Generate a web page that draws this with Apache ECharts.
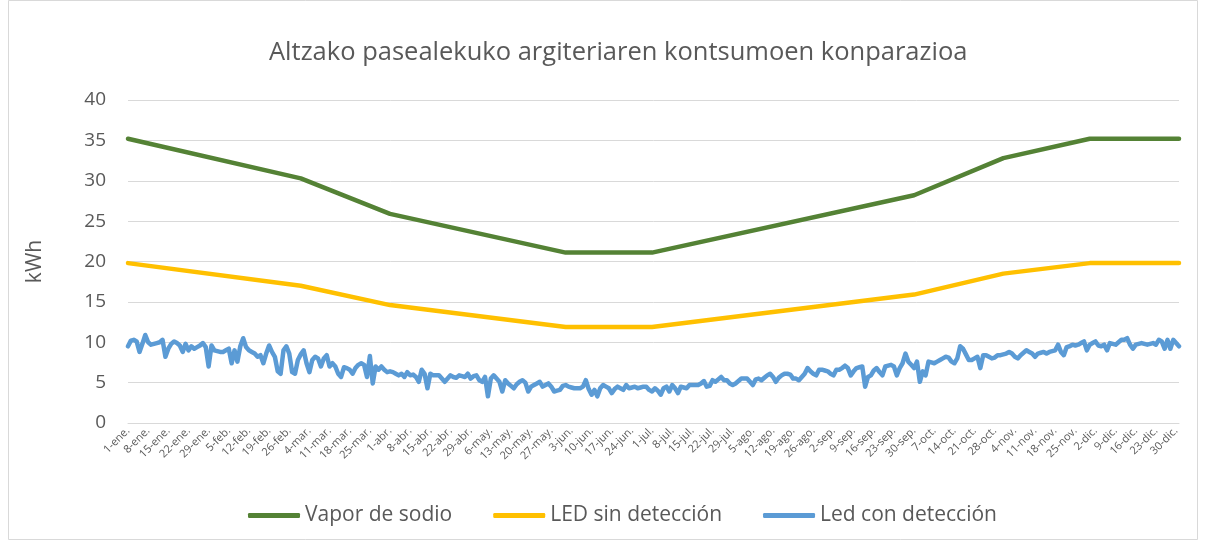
<!DOCTYPE html>
<html>
<head>
<meta charset="utf-8">
<script src="https://cdn.jsdelivr.net/npm/echarts@6/dist/echarts.min.js"></script>
<style>
  html, body { margin: 0; padding: 0; background: #ffffff; }
  #chart { width: 1206px; height: 545px; }
</style>
</head>
<body>
<div id="chart"></div>
<script>
// Year 2020 (leap year): one category per day, a label every 7 days.
const MONTH_NAMES = ['ene.', 'feb.', 'mar.', 'abr.', 'may.', 'jun.', 'jul.', 'ago.', 'sep.', 'oct.', 'nov.', 'dic.'];
const MONTH_LENGTHS = [31, 29, 31, 30, 31, 30, 31, 31, 30, 31, 30, 31];

const SERIES_NAMES = ['Vapor de sodio', 'LED sin detección', 'Led con detección'];

// Vapor de sodio: [day index, kWh] at the points where the slope changes
const vaporSodio = [
  [0, 35.2], [60, 30.3], [91, 25.9], [152, 21.1], [182, 21.1],
  [273, 28.2], [304, 32.8], [334, 35.2], [365, 35.2]
];

// LED sin detección: [day index, kWh]
const ledSinDeteccion = [
  [0, 19.8], [60, 17.0], [91, 14.6], [152, 11.9], [182, 11.9],
  [273, 15.9], [304, 18.5], [334, 19.8], [365, 19.8]
];

// Led con detección: daily kWh, 1 January to 31 December
const ledConDeteccion = [
  9.5, 10.2, 10.3, 10.1, 8.8, 9.8, 10.9, 10.0, 9.7, 9.8,
  9.9, 10.0, 10.3, 8.2, 9.2, 9.8, 10.1, 9.9, 9.6, 8.8,
  9.8, 9.0, 9.5, 9.2, 9.4, 9.6, 9.9, 9.4, 7.0, 9.6,
  9.0, 8.9, 8.8, 8.8, 9.0, 9.2, 7.4, 9.0, 7.6, 9.5,
  10.5, 9.4, 9.0, 8.8, 8.6, 8.2, 8.4, 7.4, 8.6, 9.6,
  8.8, 8.2, 6.4, 6.1, 9.0, 9.5, 8.6, 6.3, 6.1, 7.8,
  8.5, 9.0, 7.4, 6.3, 7.8, 8.2, 8.0, 7.0, 8.0, 8.4,
  7.0, 7.4, 7.0, 6.1, 5.7, 6.9, 6.8, 6.6, 6.1, 6.8,
  7.2, 7.4, 7.2, 5.7, 8.3, 4.9, 7.0, 6.6, 7.0, 6.6,
  6.3, 6.4, 6.3, 6.1, 5.9, 6.1, 5.7, 6.3, 5.9, 6.0,
  5.7, 5.1, 6.6, 6.1, 4.3, 6.1, 5.9, 5.9, 5.9, 5.5,
  5.1, 5.5, 5.9, 5.7, 5.6, 5.9, 5.8, 5.7, 6.1, 5.5,
  5.8, 5.9, 5.3, 5.1, 5.7, 3.3, 5.5, 5.9, 5.5, 5.1,
  3.9, 5.3, 4.9, 4.6, 4.3, 4.8, 5.1, 5.3, 5.0, 3.9,
  4.5, 4.7, 4.9, 5.1, 4.5, 4.7, 4.9, 4.5, 3.9, 4.0,
  4.1, 4.6, 4.7, 4.5, 4.4, 4.3, 4.3, 4.3, 4.5, 5.3,
  4.2, 3.5, 4.1, 3.3, 4.3, 4.7, 4.5, 4.3, 3.7, 4.2,
  4.5, 4.3, 4.1, 4.7, 4.3, 4.4, 4.5, 4.3, 4.4, 4.5,
  4.5, 4.1, 3.9, 4.3, 4.0, 3.5, 4.3, 4.5, 3.9, 4.7,
  4.3, 3.7, 4.5, 4.4, 4.3, 4.7, 4.7, 4.7, 4.7, 4.9,
  5.2, 4.5, 4.6, 5.3, 5.1, 5.4, 5.7, 5.3, 5.3, 4.9,
  4.7, 4.9, 5.2, 5.5, 5.5, 5.5, 5.1, 4.7, 5.4, 5.5,
  5.3, 5.6, 5.9, 6.1, 5.7, 5.1, 5.6, 5.9, 6.1, 6.1,
  6.0, 5.5, 5.5, 5.3, 5.7, 6.1, 6.8, 6.4, 6.1, 5.9,
  6.6, 6.6, 6.5, 6.4, 6.1, 5.9, 6.6, 6.6, 6.8, 7.1,
  6.8, 5.9, 6.4, 6.8, 6.9, 7.0, 4.5, 5.7, 5.9, 6.5,
  6.8, 6.3, 5.9, 7.0, 7.1, 7.2, 7.0, 5.9, 6.8, 7.4,
  8.6, 7.6, 7.2, 6.8, 7.6, 5.1, 6.4, 5.9, 7.6, 7.5,
  7.4, 7.6, 7.8, 8.0, 8.2, 8.1, 7.6, 7.4, 8.0, 9.5,
  9.2, 8.5, 7.8, 7.8, 8.0, 8.2, 6.8, 8.4, 8.4, 8.2,
  8.0, 8.1, 8.4, 8.4, 8.5, 8.6, 8.8, 8.6, 8.2, 8.0,
  8.4, 8.7, 9.0, 8.8, 8.6, 8.2, 8.6, 8.7, 8.8, 8.6,
  8.8, 8.9, 9.0, 9.7, 8.8, 8.4, 9.4, 9.5, 9.7, 9.6,
  9.7, 9.9, 10.1, 9.0, 9.7, 9.9, 10.1, 9.6, 9.5, 9.7,
  9.0, 9.9, 9.8, 9.7, 10.0, 10.3, 10.3, 10.5, 9.7, 9.2,
  9.7, 9.8, 9.9, 9.8, 9.7, 9.8, 9.9, 9.7, 10.3, 10.1,
  9.2, 10.3, 9.2, 10.3, 9.9, 9.5
];

// Day names such as "1-ene.", "8-ene." ...
const dayCategories = [];
MONTH_LENGTHS.forEach((len, m) => {
  for (let d = 1; d <= len; d++) dayCategories.push(d + '-' + MONTH_NAMES[m]);
});

const TEXT_COLOR = '#595959';
const GRID_COLOR = '#d9d9d9';
const FONT = 'Open Sans';

const chart = echarts.init(document.getElementById('chart'), null, { renderer: 'canvas' });

const lineSeries = (name, data, color, width) => ({
  name: name,
  type: 'line',
  data: data,
  showSymbol: false,
  symbol: 'none',
  lineStyle: { color: color, width: width, cap: 'round', join: 'round' },
  itemStyle: { color: color },
  emphasis: { disabled: true }
});

chart.setOption({
  animation: false,
  backgroundColor: '#ffffff',
  title: {
    text: 'Altzako pasealekuko argiteriaren kontsumoen konparazioa',
    left: 264,
    top: 35,
    textStyle: { fontFamily: FONT, fontSize: 25.5, fontWeight: 'normal', color: TEXT_COLOR }
  },
  legend: {
    data: SERIES_NAMES,
    left: 243,
    top: 500,
    icon: 'roundRect',
    itemWidth: 52,
    itemHeight: 5,
    itemGap: 41,
    textStyle: { fontFamily: FONT, fontSize: 21, color: TEXT_COLOR }
  },
  grid: { left: 128, right: 27, top: 100, bottom: 122 },
  xAxis: {
    type: 'category',
    data: dayCategories,
    boundaryGap: false,
    axisLine: { show: true, lineStyle: { color: GRID_COLOR, width: 1 } },
    axisTick: { show: false },
    axisLabel: {
      interval: 6,
      rotate: 45,
      margin: 6,
      fontFamily: FONT,
      fontSize: 11,
      color: TEXT_COLOR
    },
    splitLine: { show: false }
  },
  yAxis: {
    type: 'value',
    min: 0,
    max: 40,
    interval: 5,
    name: 'kWh',
    nameLocation: 'middle',
    nameGap: 82,
    nameTextStyle: { fontFamily: FONT, fontSize: 21, color: TEXT_COLOR },
    axisLine: { show: false },
    axisTick: { show: false },
    axisLabel: { margin: 22, fontFamily: FONT, fontSize: 19, color: TEXT_COLOR },
    splitLine: { lineStyle: { color: GRID_COLOR, width: 1 } }
  },
  graphic: [{
    type: 'rect',
    silent: true,
    shape: { x: 8.5, y: 0.5, width: 1189, height: 539 },
    style: { fill: 'none', stroke: GRID_COLOR, lineWidth: 1 }
  }],
  series: [
    lineSeries(SERIES_NAMES[0], vaporSodio, '#548235', 4.5),
    lineSeries(SERIES_NAMES[1], ledSinDeteccion, '#FFC000', 4.5),
    lineSeries(SERIES_NAMES[2], ledConDeteccion, '#5B9BD5', 4.5)
  ]
});
</script>
</body>
</html>
